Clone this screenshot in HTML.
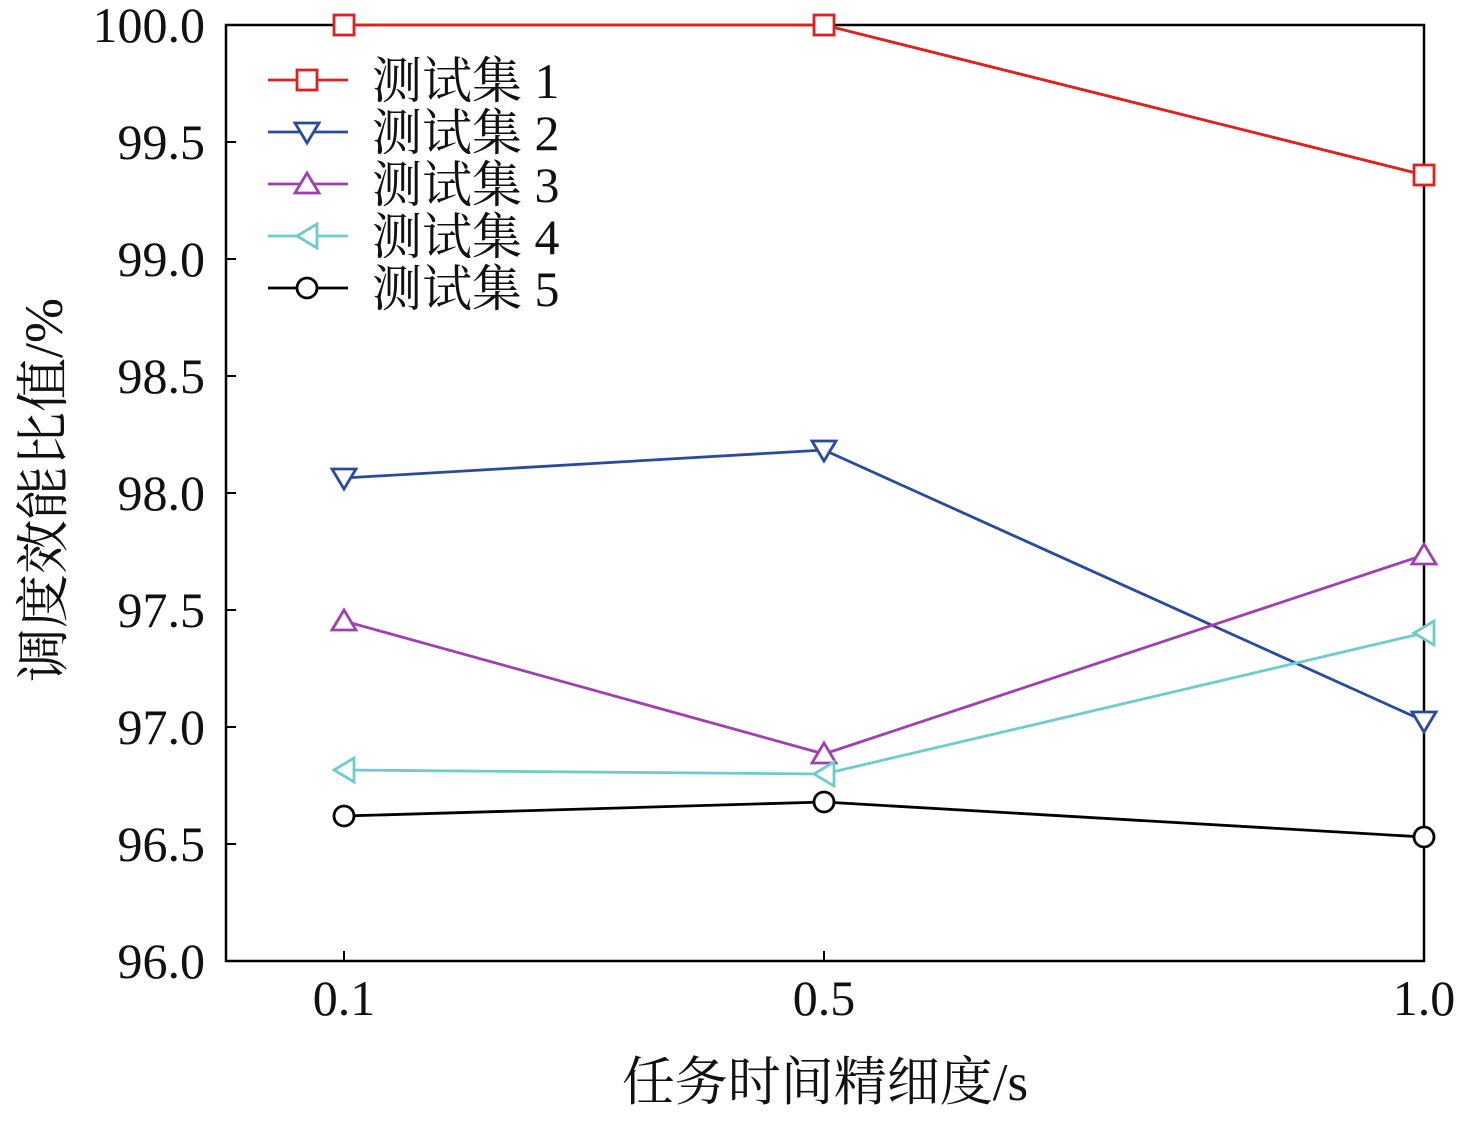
<!DOCTYPE html>
<html><head><meta charset="utf-8"><style>body{margin:0;background:#fff}</style></head><body>
<svg width="1476" height="1117" xmlns="http://www.w3.org/2000/svg" font-family="'Liberation Serif','Noto Serif CJK SC',serif">
<rect x="226" y="25" width="1198" height="936" fill="none" stroke="#000" stroke-width="2.5"/>
<g stroke="#000" stroke-width="2">
<line x1="226" y1="142" x2="236" y2="142"/><line x1="226" y1="259" x2="236" y2="259"/><line x1="226" y1="376" x2="236" y2="376"/><line x1="226" y1="493" x2="236" y2="493"/><line x1="226" y1="610" x2="236" y2="610"/><line x1="226" y1="727" x2="236" y2="727"/><line x1="226" y1="844" x2="236" y2="844"/>
<line x1="344" y1="961" x2="344" y2="951"/><line x1="824" y1="961" x2="824" y2="951"/>
</g>
<g font-size="50" text-anchor="end" fill="#111">
<text x="205" y="42">100.0</text><text x="205" y="159">99.5</text><text x="205" y="276">99.0</text><text x="205" y="393">98.5</text><text x="205" y="510">98.0</text><text x="205" y="627">97.5</text><text x="205" y="744">97.0</text><text x="205" y="861">96.5</text><text x="205" y="978">96.0</text>
</g>
<g font-size="50" text-anchor="middle" fill="#111">
<text x="344" y="1015">0.1</text><text x="824" y="1015">0.5</text><text x="1424" y="1015">1.0</text>
<text x="825" y="1100" font-size="53">任务时间精细度/s</text>
</g>
<text transform="translate(62,490) rotate(-90)" font-size="54" text-anchor="middle" fill="#111">调度效能比值/%</text>
<g fill="none" stroke-width="2.8">
<polyline stroke="#e02020" points="344,25 824,25 1424,175"/>
<g stroke="#e02020"><rect x="334" y="15" width="20" height="20" fill="#fff"/><rect x="814" y="15" width="20" height="20" fill="#fff"/><rect x="1414" y="165" width="20" height="20" fill="#fff"/></g>
<polyline stroke="#2a4aa0" points="344,478 824,450 1424,721"/>
<g stroke="#2a4aa0" fill="#fff"><polygon points="332,469 356,469 344,489"/><polygon points="812,441 836,441 824,461"/><polygon points="1412,712 1436,712 1424,732"/></g>
<polyline stroke="#a040b0" points="344,621 824,754 1424,555"/>
<g stroke="#a040b0" fill="#fff"><polygon points="332,630 356,630 344,610"/><polygon points="812,763 836,763 824,743"/><polygon points="1412,564 1436,564 1424,544"/></g>
<polyline stroke="#70cccc" points="344,770 824,774 1424,633"/>
<g stroke="#70cccc" fill="#fff"><polygon points="354,758 354,782 334,770"/><polygon points="834,762 834,786 814,774"/><polygon points="1434,621 1434,645 1414,633"/></g>
<polyline stroke="#000" points="344,816 824,802 1424,837"/>
<g stroke="#000" fill="#fff"><circle cx="344" cy="816" r="10"/><circle cx="824" cy="802" r="10"/><circle cx="1424" cy="837" r="10"/></g>
<line x1="268" y1="80" x2="348" y2="80" stroke="#e02020"/><rect x="297" y="70" width="20" height="20" stroke="#e02020" fill="#fff"/>
<line x1="268" y1="132" x2="348" y2="132" stroke="#2a4aa0"/><polygon points="295,123 319,123 307,143" stroke="#2a4aa0" fill="#fff"/>
<line x1="268" y1="184" x2="348" y2="184" stroke="#a040b0"/><polygon points="295,193 319,193 307,173" stroke="#a040b0" fill="#fff"/>
<line x1="268" y1="236" x2="348" y2="236" stroke="#70cccc"/><polygon points="317,224 317,248 297,236" stroke="#70cccc" fill="#fff"/>
<line x1="268" y1="288" x2="348" y2="288" stroke="#000"/><circle cx="307" cy="288" r="10" stroke="#000" fill="#fff"/>
</g>
<g font-size="50" fill="#111">
<text x="372" y="98">测试集 1</text><text x="372" y="150">测试集 2</text><text x="372" y="202">测试集 3</text><text x="372" y="254">测试集 4</text><text x="372" y="306">测试集 5</text>
</g>
</svg>
</body></html>
